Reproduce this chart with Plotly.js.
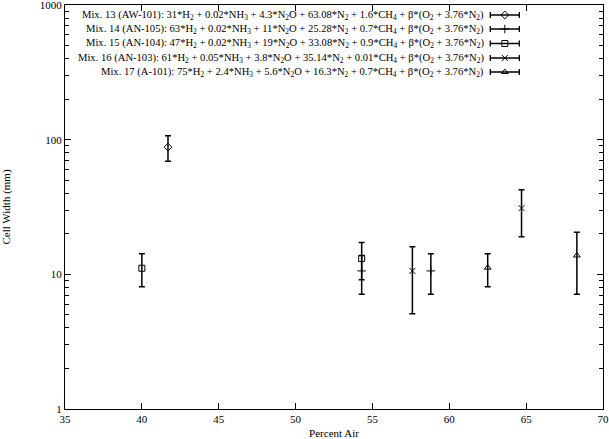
<!DOCTYPE html>
<html>
<head>
<meta charset="utf-8">
<script src="https://cdn.plot.ly/plotly-3.0.1.min.js"></script>
<style>
  html, body { margin: 0; padding: 0; background: #fff; }
  #chart { width: 609px; height: 439px; }
</style>
</head>
<body>
<div id="chart"></div>
<script>
// values (percent air, cell width mm, error bar ends)
var mixNames = [
  'Mix. 13 (AW-101): 31*H<sub>2</sub> + 0.02*NH<sub>3</sub> + 4.3*N<sub>2</sub>O + 63.08*N<sub>2</sub> + 1.6*CH<sub>4</sub> + β*(O<sub>2</sub> + 3.76*N<sub>2</sub>)',
  'Mix. 14 (AN-105): 63*H<sub>2</sub> + 0.02*NH<sub>3</sub> + 11*N<sub>2</sub>O + 25.28*N<sub>2</sub> + 0.7*CH<sub>4</sub> + β*(O<sub>2</sub> + 3.76*N<sub>2</sub>)',
  'Mix. 15 (AN-104): 47*H<sub>2</sub> + 0.02*NH<sub>3</sub> + 19*N<sub>2</sub>O + 33.08*N<sub>2</sub> + 0.9*CH<sub>4</sub> + β*(O<sub>2</sub> + 3.76*N<sub>2</sub>)',
  'Mix. 16 (AN-103): 61*H<sub>2</sub> + 0.05*NH<sub>3</sub> + 3.8*N<sub>2</sub>O + 35.14*N<sub>2</sub> + 0.01*CH<sub>4</sub> + β*(O<sub>2</sub> + 3.76*N<sub>2</sub>)',
  'Mix. 17 (A-101): 75*H<sub>2</sub> + 2.4*NH<sub>3</sub> + 5.6*N<sub>2</sub>O + 16.3*N<sub>2</sub> + 0.7*CH<sub>4</sub> + β*(O<sub>2</sub> + 3.76*N<sub>2</sub>)'
];
var mixSymbols = ['diamond-open', 'cross-thin-open', 'square-open', 'x-thin-open', 'triangle-up-open'];

var air13 = [41.7],        width13 = [88],         high13 = [107],        low13 = [69];
var air14 = [54.3, 58.8],  width14 = [10.6, 10.6], high14 = [13.8, 14.2], low14 = [7.1, 7.1];
var air15 = [40.0, 54.3],  width15 = [11.1, 13.1], high15 = [14.2, 17.2], low15 = [8.1, 9.1];
var air16 = [57.6, 64.7],  width16 = [10.6, 31],   high16 = [16.0, 42.4], low16 = [5.1, 19.0];
var air17 = [62.5, 68.3],  width17 = [11.2, 13.8], high17 = [14.2, 20.5], low17 = [8.1, 7.1];

var xTicks = [35, 40, 45, 50, 55, 60, 65, 70];
var yTicks = [1, 10, 100, 1000];

// minor log ticks 2..9 in each decade
var minorY = [];
[1, 10, 100].forEach(function (d) {
  for (var m = 2; m <= 9; m++) minorY.push(m * d);
});

var series = [
  [air13, width13, high13, low13],
  [air14, width14, high14, low14],
  [air15, width15, high15, low15],
  [air16, width16, high16, low16],
  [air17, width17, high17, low17]
];

var fnt = 'Liberation Serif, Times New Roman, serif';
var traces = [];
var annotations = [];
// legend rows (pixel y of each row)
var rowPx = [15, 29, 43.5, 58, 72];
var plotTop = 5, plotH = 404;

series.forEach(function (s, i) {
  var plus = s[2].map(function (v, k) { return v - s[1][k]; });
  var minus = s[1].map(function (v, k) { return v - s[3][k]; });
  traces.push({
    type: 'scatter', mode: 'markers',
    x: s[0], y: s[1],
    marker: { symbol: mixSymbols[i], size: 6, color: '#000', line: { width: 1, color: '#000' } },
    error_y: { type: 'data', array: plus, arrayminus: minus, visible: true,
               color: '#000', thickness: 1.5, width: 3 },
    showlegend: false, hoverinfo: 'skip'
  });
  var ry = 1 - (rowPx[i] - plotTop) / plotH;
  // legend sample: marker with a horizontal bar, on an overlay axis in 0..1 units
  traces.push({
    type: 'scatter', mode: 'markers', xaxis: 'x2', yaxis: 'y2',
    x: [0.8175], y: [ry],
    marker: { symbol: mixSymbols[i], size: 6, color: '#000', line: { width: 1, color: '#000' } },
    error_x: { type: 'constant', value: 0.027, visible: true, color: '#000', thickness: 1.3, width: 3 },
    showlegend: false, hoverinfo: 'skip', cliponaxis: false
  });
  annotations.push({
    xref: 'paper', yref: 'paper', x: 0.7825, y: ry,
    xanchor: 'right', yanchor: 'middle', showarrow: false,
    text: mixNames[i], font: { family: fnt, size: 10.6, color: '#000' }
  });
});

var layout = {
  width: 609, height: 439,
  margin: { l: 65, r: 6, t: 5, b: 30 },
  paper_bgcolor: '#fff', plot_bgcolor: '#fff',
  font: { family: fnt, size: 11, color: '#000' },
  showlegend: false,
  xaxis: {
    range: [35, 70], tickmode: 'array', tickvals: xTicks,
    ticks: 'inside', ticklen: 6, tickwidth: 1, tickcolor: '#000', mirror: 'allticks',
    showline: true, linecolor: '#000', linewidth: 1, showgrid: false, zeroline: false,
    ticklabeloverflow: 'allow',
    tickfont: { family: fnt, size: 11 },
    title: { text: 'Percent Air', font: { family: fnt, size: 11 }, standoff: 5 }
  },
  yaxis: {
    type: 'log', range: [-0.0001, 3.0001], tickmode: 'array', tickvals: yTicks,
    exponentformat: 'none',
    ticks: 'inside', ticklen: 6, tickwidth: 1, tickcolor: '#000', mirror: 'allticks',
    showline: true, linecolor: '#000', linewidth: 1, showgrid: false, zeroline: false,
    ticklabeloverflow: 'allow',
    minor: { ticks: 'inside', ticklen: 4, tickcolor: '#000', tickmode: 'array', tickvals: minorY, showgrid: false },
    tickfont: { family: fnt, size: 11 },
    title: { text: 'Cell Width (mm)', font: { family: fnt, size: 11 }, standoff: 29 }
  },
  xaxis2: { overlaying: 'x', range: [0, 1], visible: false, fixedrange: true },
  yaxis2: { overlaying: 'y', range: [0, 1], visible: false, fixedrange: true },
  annotations: annotations
};

Plotly.newPlot('chart', traces, layout, { staticPlot: true, displayModeBar: false });
</script>
</body>
</html>
